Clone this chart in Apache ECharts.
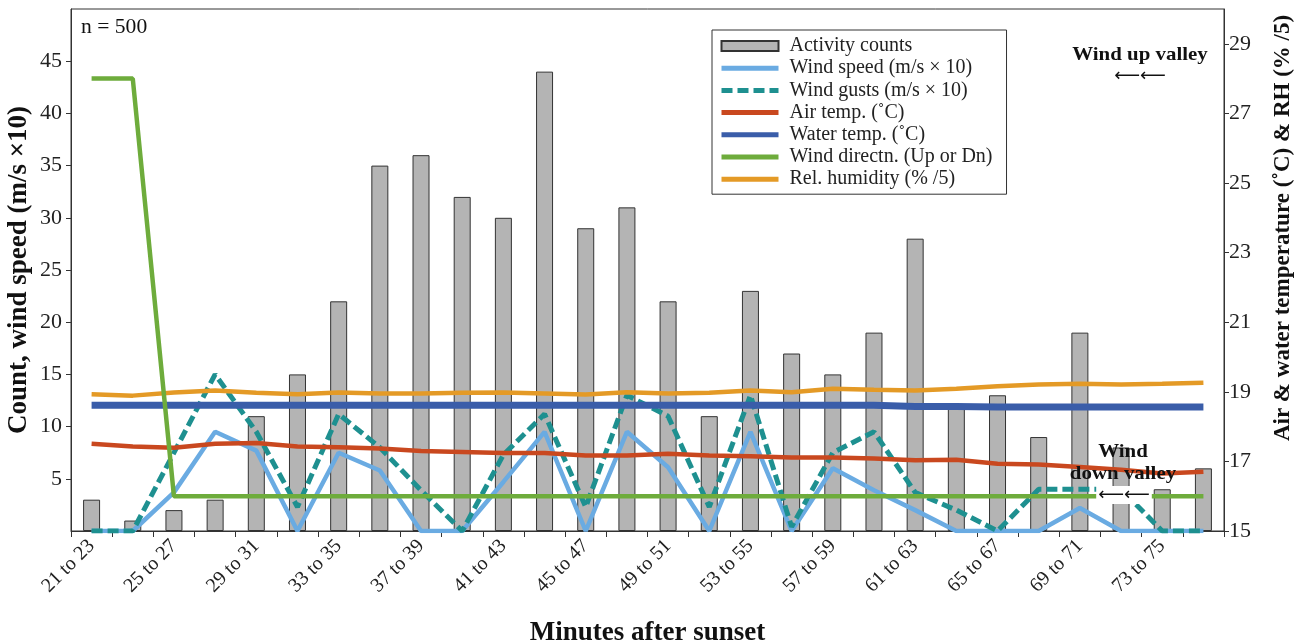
<!DOCTYPE html>
<html>
<head>
<meta charset="utf-8">
<script src="https://cdn.jsdelivr.net/npm/echarts@6/dist/echarts.min.js"></script>
<style>
  html, body { margin: 0; padding: 0; background: #fff; }
  #chart { width: 1302px; height: 644px; }
</style>
</head>
<body>
<div id="chart"></div>
<script>
const categories = [
  "21 to 23", "23 to 25", "25 to 27", "27 to 29", "29 to 31", "31 to 33", "33 to 35",
  "35 to 37", "37 to 39", "39 to 41", "41 to 43", "43 to 45", "45 to 47", "47 to 49",
  "49 to 51", "51 to 53", "53 to 55", "55 to 57", "57 to 59", "59 to 61", "61 to 63",
  "63 to 65", "65 to 67", "67 to 69", "69 to 71", "71 to 73", "73 to 75", "75 to 77"
];
const counts = [3, 1, 2, 3, 11, 15, 22, 35, 36, 32, 30, 44, 29, 31, 22, 11, 23, 17, 15, 19, 28, 12, 13, 9, 19, 8, 4, 6];
const windSpeed = [0, 0, 3.7, 9.5, 7.7, 0, 7.5, 5.8, 0, 0, 4.7, 9.5, 0, 9.5, 6.1, 0, 9.5, 0, 6.0, 3.9, 2.0, 0, 0, 0, 2.2, 0, 0, 0];
const windGusts = [0, 0, 7.5, 15, 9.5, 2.3, 11.2, 8, 3.9, 0, 7.3, 11.2, 2.3, 13, 11, 2.3, 13, 0.4, 7.5, 9.5, 3.7, 2, 0, 4, 4, 4, 0, 0];
const airTemp = [17.51, 17.43, 17.39, 17.51, 17.53, 17.43, 17.41, 17.37, 17.30, 17.27, 17.24, 17.24, 17.17, 17.17,
  17.22, 17.17, 17.15, 17.11, 17.11, 17.08, 17.03, 17.05, 16.93, 16.91, 16.84, 16.76, 16.65, 16.70];
const waterTemp = [18.61, 18.61, 18.61, 18.61, 18.61, 18.61, 18.61, 18.61, 18.61, 18.61, 18.61, 18.61, 18.61, 18.61,
  18.61, 18.61, 18.61, 18.61, 18.61, 18.61, 18.58, 18.58, 18.56, 18.56, 18.56, 18.56, 18.56, 18.56];
const windDir = [28, 28, 16, 16, 16, 16, 16, 16, 16, 16, 16, 16, 16, 16, 16, 16, 16, 16, 16, 16, 16, 16, 16, 16, 16, 16, 16, 16];
const humidity = [18.93, 18.89, 18.98, 19.04, 18.97, 18.93, 18.98, 18.95, 18.95, 18.97, 18.98, 18.95, 18.92, 18.99,
  18.95, 18.97, 19.04, 18.99, 19.09, 19.06, 19.04, 19.09, 19.16, 19.21, 19.23, 19.21, 19.23, 19.26];
const leftTicks = [5, 10, 15, 20, 25, 30, 35, 40, 45];
const rightTicks = [15, 17, 19, 21, 23, 25, 27, 29];

const SERIF = '"Liberation Serif", "DejaVu Serif", serif';
const INK = "#222";

const chart = echarts.init(document.getElementById("chart"), null, { renderer: "canvas" });

const lineSeries = (name, data, axis, color, width, type) => ({
  name,
  type: "line",
  yAxisIndex: axis,
  data,
  symbol: "none",
  lineStyle: { color, width, type: type || "solid" },
  itemStyle: { color },
  emphasis: { disabled: true }
});

// legend entries for lines: hide the marker dot, keep a thick stroke
const lineKey = (name) => ({ name, itemStyle: { opacity: 0 }, lineStyle: { width: 5 } });

chart.setOption({
  animation: false,
  backgroundColor: "#fff",
  grid: {
    left: 71, right: 78, top: 9, bottom: 113,
    outerBoundsMode: "none",
    show: true, borderColor: "#333", borderWidth: 1
  },
  legend: {
    orient: "vertical",
    left: 712,
    top: 30,
    data: [
      { name: "Activity counts", icon: "rect" },
      lineKey("Wind speed (m/s × 10)"),
      lineKey("Wind gusts (m/s × 10)"),
      lineKey("Air temp. (˚C)"),
      lineKey("Water temp. (˚C)"),
      lineKey("Wind directn. (Up or Dn)"),
      lineKey("Rel. humidity (% /5)")
    ],
    itemWidth: 57,
    itemHeight: 10,
    itemGap: 2.2,
    padding: [6, 14, 5, 7],
    borderColor: "#333",
    borderWidth: 1,
    backgroundColor: "#fff",
    textStyle: { fontFamily: SERIF, fontSize: 20, lineHeight: 20, color: INK, padding: [0, 0, 0, 6] }
  },
  xAxis: {
    type: "category",
    data: categories,
    boundaryGap: true,
    axisLine: { lineStyle: { color: "#333", width: 1 } },
    axisTick: { show: true, interval: 0, length: 6, lineStyle: { color: "#333" } },
    axisLabel: { interval: 1, rotate: 45, margin: 12, fontFamily: SERIF, fontSize: 20, color: INK },
    name: "Minutes after sunset",
    nameLocation: "middle",
    nameGap: 89,
    nameMoveOverlap: false,
    nameTextStyle: { fontFamily: SERIF, fontSize: 27, fontWeight: "bold", color: "#111" }
  },
  yAxis: [
    {
      type: "value",
      position: "left",
      min: 0,
      max: 50,
      splitLine: { show: false },
      axisLine: { show: true, lineStyle: { color: "#333" } },
      axisTick: { show: true, length: 5, customValues: leftTicks, lineStyle: { color: "#333" } },
      axisLabel: { customValues: leftTicks, margin: 9, fontFamily: SERIF, fontSize: 22, color: INK },
      name: "Count, wind speed (m/s ×10)",
      nameLocation: "middle",
      nameRotate: 90,
      nameGap: 38,
      nameMoveOverlap: false,
      nameTextStyle: { fontFamily: SERIF, fontSize: 27, fontWeight: "bold", color: "#111" }
    },
    {
      type: "value",
      position: "right",
      min: 15,
      max: 30,
      splitLine: { show: false },
      axisLine: { show: true, lineStyle: { color: "#333" } },
      axisTick: { show: true, length: 5, customValues: rightTicks, lineStyle: { color: "#333" } },
      axisLabel: { customValues: rightTicks, margin: 5, fontFamily: SERIF, fontSize: 22, color: INK }
    }
  ],
  series: [
    {
      name: "Activity counts",
      type: "bar",
      data: counts,
      barWidth: 17,
      itemStyle: { color: "#b4b4b4", borderColor: "#333", borderWidth: 1 },
      emphasis: { disabled: true }
    },
    lineSeries("Wind speed (m/s × 10)", windSpeed, 0, "#6aabe2", 4.5),
    lineSeries("Wind gusts (m/s × 10)", windGusts, 0, "#1e9090", 5, [11, 5]),
    lineSeries("Air temp. (˚C)", airTemp, 1, "#c9481f", 4.5),
    lineSeries("Water temp. (˚C)", waterTemp, 1, "#3a5da9", 7),
    lineSeries("Rel. humidity (% /5)", humidity, 1, "#e49a26", 4.5),
    lineSeries("Wind directn. (Up or Dn)", windDir, 1, "#6eac3c", 4.5)
  ],
  graphic: [
    {
      type: "text", x: 81, y: 28, z: 100, scaleX: 1.08,
      style: { text: "n = 500", font: '20px "Liberation Serif"', fill: "#111", textAlign: "left", textVerticalAlign: "middle" }
    },
    {
      type: "text", x: 1140, y: 55, z: 100, scaleX: 1.1,
      style: { text: "Wind up valley", font: 'bold 19px "Liberation Serif"', fill: "#111", textAlign: "center", textVerticalAlign: "middle" }
    },
    {
      type: "text", x: 1140, y: 76, z: 100,
      style: { text: "\u27F5\u27F5", font: '18px "DejaVu Sans"', fill: "#111", textAlign: "center", textVerticalAlign: "middle" }
    },
    {
      type: "text", x: 1123, y: 463, z: 100, scaleX: 1.1,
      style: {
        text: "Wind\ndown valley", font: 'bold 19px "Liberation Serif"', lineHeight: 22, fill: "#111",
        textAlign: "center", textVerticalAlign: "middle"
      }
    },
    {
      type: "text", x: 1124, y: 495, z: 100,
      style: {
        text: "\u27F5\u27F5", font: '18px "DejaVu Sans"', fill: "#111", textAlign: "center", textVerticalAlign: "middle",
        backgroundColor: "#fff", padding: [0, 2]
      }
    },
    {
      type: "text", x: 1283, y: 228, z: 100, rotation: Math.PI / 2,
      style: {
        text: "Air & water temperature (˚C) & RH (% /5)", font: 'bold 23px "Liberation Serif"', fill: "#111",
        textAlign: "center", textVerticalAlign: "middle"
      }
    }
  ]
});
</script>
</body>
</html>
